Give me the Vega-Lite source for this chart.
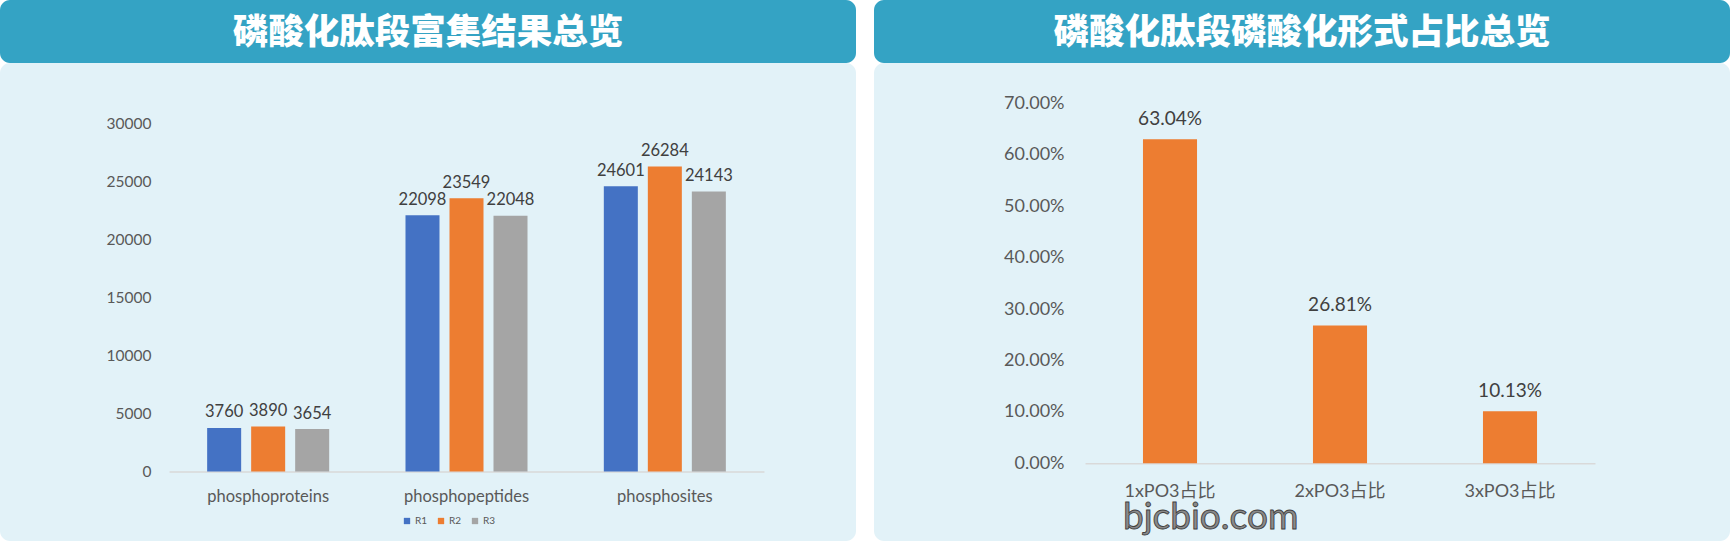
{
  "$schema": "https://vega.github.io/schema/vega-lite/v6.json",
  "background": "white",
  "padding": 0,
  "spacing": 18,
  "config": {"view": {"stroke": null}, "font": "Lato"},
  "hconcat": [
    {
      "spacing": 0,
      "vconcat": [
        {
          "width": 856,
          "height": 63,
          "view": {"fill": "#34A3C4", "stroke": null, "cornerRadius": 10},
          "data": {"values": [{"title": "磷酸化肽段富集结果总览"}]},
          "mark": {"type": "text", "font": "Noto Sans CJK SC", "fontSize": 35.5, "fontWeight": 900, "color": "#FFFFFF", "align": "center", "baseline": "middle", "dy": 1.5},
          "encoding": {"text": {"field": "title", "type": "nominal"}}
        },
        {
          "width": 856,
          "height": 478,
          "view": {"fill": "#E2F2F8", "stroke": null, "cornerRadius": 10},
          "data": {"values": [
            {"category": "phosphoproteins", "series": "R1", "value": 3760},
            {"category": "phosphoproteins", "series": "R2", "value": 3890},
            {"category": "phosphoproteins", "series": "R3", "value": 3654},
            {"category": "phosphopeptides", "series": "R1", "value": 22098},
            {"category": "phosphopeptides", "series": "R2", "value": 23549},
            {"category": "phosphopeptides", "series": "R3", "value": 22048},
            {"category": "phosphosites", "series": "R1", "value": 24601},
            {"category": "phosphosites", "series": "R2", "value": 26284},
            {"category": "phosphosites", "series": "R3", "value": 24143}
          ]},
          "encoding": {
            "x": {
              "field": "category", "type": "nominal", "sort": null,
              "scale": {"range": [169, 764], "paddingInner": 0, "paddingOuter": 0},
              "axis": {"title": null, "domain": true, "domainColor": "#D9D9D9", "domainWidth": 1.5, "ticks": false, "tickSize": 0, "labelPadding": 25, "labelBaseline": "middle", "labelAngle": 0, "offset": -69.5, "labelFont": "Lato", "labelFontSize": 16.5, "labelColor": "#595959", "grid": false}
            },
            "xOffset": {"field": "series", "type": "nominal", "scale": {"paddingInner": 0.2273, "paddingOuter": 0.867}},
            "y": {
              "field": "value", "type": "quantitative",
              "scale": {"domain": [0, 30000], "range": [408.5, 60.5], "nice": false},
              "axis": {"title": null, "values": [0, 5000, 10000, 15000, 20000, 25000, 30000], "format": "d", "domain": false, "ticks": false, "tickSize": 0, "grid": false, "labelPadding": 0, "offset": -151, "labelFont": "Lato", "labelFontSize": 15.5, "labelColor": "#595959"}
            }
          },
          "layer": [
            {
              "mark": {"type": "bar"},
              "encoding": {
                "color": {
                  "field": "series", "type": "nominal",
                  "scale": {"domain": ["R1", "R2", "R3"], "range": ["#4472C4", "#ED7D31", "#A5A5A5"]},
                  "legend": {"orient": "none", "legendX": 402, "legendY": 516, "direction": "horizontal", "title": null, "symbolType": "square", "symbolSize": 40, "symbolStrokeWidth": 0, "labelFont": "Lato", "labelFontSize": 10, "labelColor": "#595959", "columnPadding": 8, "labelOffset": 3}
                }
              }
            },
            {
              "mark": {"type": "text", "baseline": "middle", "align": "center", "dy": -15.5, "fontSize": 16.5, "font": "Lato", "color": "#404040"},
              "encoding": {"text": {"field": "value", "type": "quantitative", "format": "d"}}
            }
          ]
        }
      ]
    },
    {
      "spacing": 0,
      "vconcat": [
        {
          "width": 856,
          "height": 63,
          "view": {"fill": "#34A3C4", "stroke": null, "cornerRadius": 10},
          "data": {"values": [{"title": "磷酸化肽段磷酸化形式占比总览"}]},
          "mark": {"type": "text", "font": "Noto Sans CJK SC", "fontSize": 35.5, "fontWeight": 900, "color": "#FFFFFF", "align": "center", "baseline": "middle", "dy": 1.5},
          "encoding": {"text": {"field": "title", "type": "nominal"}}
        },
        {
          "width": 856,
          "height": 478,
          "view": {"fill": "#E2F2F8", "stroke": null, "cornerRadius": 10},
          "encoding": {
            "x": {
              "field": "cat", "type": "nominal", "sort": null,
              "scale": {"domain": ["1xPO3占比", "2xPO3占比", "3xPO3占比"], "range": [211, 721], "paddingInner": 0.682, "paddingOuter": 0.341},
              "axis": {"title": null, "domain": true, "domainColor": "#D9D9D9", "domainWidth": 1.5, "ticks": false, "tickSize": 0, "labelPadding": 28, "labelBaseline": "middle", "labelAngle": 0, "offset": -77.7, "labelFont": "Lato, Noto Sans CJK SC", "labelFontSize": 18, "labelColor": "#595959", "grid": false}
            },
            "y": {
              "field": "value", "type": "quantitative",
              "scale": {"domain": [0, 0.7], "range": [400.3, 40.5], "nice": false},
              "axis": {"title": null, "values": [0, 0.1, 0.2, 0.3, 0.4, 0.5, 0.6, 0.7], "format": ".2%", "domain": false, "ticks": false, "tickSize": 0, "grid": false, "labelPadding": 0, "offset": -190, "labelFont": "Lato", "labelFontSize": 18, "labelColor": "#595959"}
            }
          },
          "layer": [
            {
              "data": {"values": [
                {"cat": "1xPO3占比", "value": 0.6304},
                {"cat": "2xPO3占比", "value": 0.2681},
                {"cat": "3xPO3占比", "value": 0.1013}
              ]},
              "layer": [
                {"mark": {"type": "bar", "color": "#ED7D31"}},
                {
                  "mark": {"type": "text", "baseline": "middle", "align": "center", "dy": -20, "fontSize": 19, "font": "Lato", "color": "#404040"},
                  "encoding": {"text": {"field": "value", "type": "quantitative", "format": ".2%"}}
                }
              ]
            },
            {
              "data": {"values": [{"cat": "1xPO3占比", "value": 0, "label": "bjcbio.com"}]},
              "mark": {"type": "text", "align": "left", "baseline": "middle", "dx": -47, "dy": 55, "fontSize": 37, "font": "Lato", "fill": "#8A8A8A", "stroke": "#404040", "strokeWidth": 0.9},
              "encoding": {"text": {"field": "label", "type": "nominal"}}
            }
          ]
        }
      ]
    }
  ]
}
